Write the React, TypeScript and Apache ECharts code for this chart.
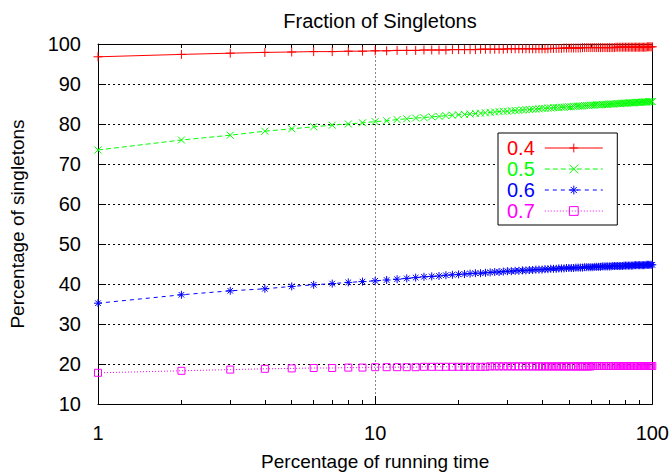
import React, { useEffect, useRef } from "react";
import * as echarts from "echarts";

const xValues: number[] = Array.from({ length: 100 }, (_, i) => i + 1);

const s04: number[] = [
  96.8, 97.4, 97.7, 97.9, 98.0, 98.1, 98.1, 98.2, 98.2, 98.3,
  98.3, 98.4, 98.4, 98.4, 98.5, 98.5, 98.5, 98.5, 98.6, 98.6,
  98.6, 98.6, 98.6, 98.7, 98.7, 98.7, 98.7, 98.7, 98.7, 98.8,
  98.8, 98.8, 98.8, 98.8, 98.8, 98.8, 98.8, 98.8, 98.8, 98.8,
  98.8, 98.8, 98.9, 98.9, 98.9, 98.9, 98.9, 99.0, 99.0, 99.0,
  99.0, 99.0, 99.0, 99.0, 99.0, 99.1, 99.1, 99.1, 99.1, 99.1,
  99.1, 99.1, 99.1, 99.1, 99.1, 99.1, 99.1, 99.1, 99.1, 99.1,
  99.1, 99.1, 99.1, 99.2, 99.2, 99.2, 99.2, 99.2, 99.2, 99.2,
  99.2, 99.2, 99.2, 99.2, 99.2, 99.2, 99.2, 99.2, 99.2, 99.2,
  99.2, 99.2, 99.2, 99.2, 99.2, 99.3, 99.3, 99.3, 99.3, 99.3,
];

const s05: number[] = [
  73.5, 76.0, 77.2, 78.2, 78.8, 79.3, 79.7, 80.0, 80.3, 80.6,
  80.8, 81.1, 81.3, 81.5, 81.6, 81.8, 81.9, 82.1, 82.2, 82.3,
  82.4, 82.5, 82.6, 82.7, 82.8, 82.9, 83.0, 83.1, 83.2, 83.2,
  83.3, 83.4, 83.4, 83.5, 83.6, 83.6, 83.7, 83.7, 83.8, 83.9,
  83.9, 84.0, 84.0, 84.1, 84.1, 84.1, 84.2, 84.2, 84.3, 84.3,
  84.3, 84.4, 84.4, 84.5, 84.5, 84.5, 84.6, 84.6, 84.6, 84.7,
  84.7, 84.7, 84.8, 84.8, 84.8, 84.9, 84.9, 84.9, 84.9, 85.0,
  85.0, 85.0, 85.0, 85.1, 85.1, 85.1, 85.1, 85.2, 85.2, 85.2,
  85.2, 85.3, 85.3, 85.3, 85.3, 85.3, 85.4, 85.4, 85.4, 85.4,
  85.4, 85.5, 85.5, 85.5, 85.5, 85.5, 85.6, 85.6, 85.6, 85.6,
];

const s06: number[] = [
  35.2, 37.3, 38.3, 38.8, 39.4, 39.8, 40.1, 40.4, 40.6, 40.8,
  41.0, 41.2, 41.4, 41.6, 41.8, 41.9, 42.0, 42.2, 42.3, 42.4,
  42.5, 42.6, 42.7, 42.7, 42.8, 42.9, 43.0, 43.0, 43.1, 43.2,
  43.2, 43.3, 43.3, 43.4, 43.4, 43.5, 43.5, 43.6, 43.6, 43.6,
  43.7, 43.7, 43.8, 43.8, 43.8, 43.9, 43.9, 43.9, 44.0, 44.0,
  44.0, 44.0, 44.1, 44.1, 44.1, 44.1, 44.2, 44.2, 44.2, 44.2,
  44.2, 44.3, 44.3, 44.3, 44.3, 44.4, 44.4, 44.4, 44.4, 44.4,
  44.4, 44.5, 44.5, 44.5, 44.5, 44.5, 44.5, 44.5, 44.6, 44.6,
  44.6, 44.6, 44.6, 44.6, 44.6, 44.7, 44.7, 44.7, 44.7, 44.7,
  44.7, 44.7, 44.7, 44.7, 44.8, 44.8, 44.8, 44.8, 44.8, 44.8,
];

const s07: number[] = [
  17.8, 18.3, 18.6, 18.8, 18.9, 19.0, 19.0, 19.1, 19.1, 19.2,
  19.2, 19.2, 19.2, 19.2, 19.3, 19.3, 19.3, 19.3, 19.3, 19.3,
  19.3, 19.3, 19.3, 19.3, 19.3, 19.4, 19.4, 19.4, 19.4, 19.4,
  19.4, 19.4, 19.4, 19.4, 19.4, 19.4, 19.4, 19.4, 19.4, 19.4,
  19.4, 19.4, 19.4, 19.4, 19.4, 19.4, 19.4, 19.4, 19.4, 19.4,
  19.4, 19.4, 19.4, 19.4, 19.4, 19.4, 19.4, 19.4, 19.4, 19.4,
  19.5, 19.5, 19.5, 19.5, 19.5, 19.5, 19.5, 19.5, 19.5, 19.5,
  19.5, 19.5, 19.5, 19.5, 19.5, 19.5, 19.5, 19.5, 19.5, 19.5,
  19.5, 19.5, 19.5, 19.5, 19.5, 19.5, 19.5, 19.5, 19.5, 19.5,
  19.5, 19.5, 19.5, 19.5, 19.5, 19.5, 19.5, 19.5, 19.5, 19.5,
];

const seriesNames: string[] = ["0.4", "0.5", "0.6", "0.7"];
const seriesColors: string[] = ["#ff0000", "#00ff00", "#0000ff", "#ff00ff"];
const seriesValues: number[][] = [s04, s05, s06, s07];
const seriesSymbols: string[] = [
  "path://M0,5L10,5M5,0L5,10",
  "path://M0,0L10,10M0,10L10,0",
  "path://M0,5L10,5M5,0L5,10M1.5,1.5L8.5,8.5M1.5,8.5L8.5,1.5",
  "path://M0,0L10,0L10,10L0,10Z",
];
const seriesSymbolSizes: number[] = [9, 7, 8, 7];
const seriesDash: any[] = ["solid", [5, 3], [4, 4], [1, 2]];

const titleText = "Fraction of Singletons";
const xName = "Percentage of running time";
const yName = "Percentage of singletons";

const FONT = "'Liberation Sans', Arial, Helvetica, sans-serif";

export default function App() {
  const ref = useRef<HTMLDivElement>(null);
  useEffect(() => {
    if (!ref.current) return;
    const chart = echarts.init(ref.current, null, { renderer: "svg" });
    const series = seriesNames.map((name, k) => ({
      name,
      type: "line",
      data: xValues.map((x, i) => [x, seriesValues[k][i]]),
      symbol: seriesSymbols[k],
      symbolSize: seriesSymbolSizes[k],
      showAllSymbol: true,
      lineStyle: { color: seriesColors[k], width: 1, type: seriesDash[k] },
      itemStyle: { color: "none", borderColor: seriesColors[k], borderWidth: 1 },
      emphasis: { disabled: true },
      z: 3 + k,
    }));
    const axisLineStyle = { color: "#000", width: 1 };
    chart.setOption({
      animation: false,
      backgroundColor: "#fff",
      textStyle: { fontFamily: FONT },
      title: {
        text: titleText,
        left: 375,
        textAlign: "center",
        top: 6,
        textStyle: { fontFamily: FONT, fontSize: 20, fontWeight: "normal", color: "#000" },
      },
      grid: { left: 97, right: 18, top: 44, bottom: 72 },
      legend: {
        orient: "vertical",
        left: 498,
        top: 133,
        align: "right",
        itemWidth: 58,
        itemHeight: 11,
        itemGap: 1,
        padding: [5, 14, 4, 9],
        backgroundColor: "#fff",
        borderColor: "#000",
        borderWidth: 1,
        borderRadius: 0,
        lineStyle: { width: 1 },
        itemStyle: { borderWidth: 1 },
        data: seriesNames.map((n, k) => ({
          name: n,
          textStyle: { color: seriesColors[k] },
        })),
        textStyle: { fontFamily: FONT, fontSize: 20, lineHeight: 20, padding: [0, 5, 0, 0] },
      },
      xAxis: [
        {
          type: "log",
          logBase: 10,
          min: 1,
          max: 100,
          position: "bottom",
          name: xName,
          nameLocation: "middle",
          nameGap: 48,
          nameTextStyle: { fontFamily: FONT, fontSize: 19, color: "#000" },
          axisLine: { lineStyle: axisLineStyle },
          axisTick: { inside: true, length: 8, lineStyle: axisLineStyle },
          minorTick: { show: true, splitNumber: 9, length: 4, lineStyle: axisLineStyle },
          axisLabel: {
            margin: 19,
            fontFamily: FONT,
            fontSize: 20,
            color: "#000",
            formatter: (v: number) => String(v),
          },
          splitLine: { show: true, lineStyle: { color: "#888", width: 1, type: [2, 2] } },
        },
        {
          type: "log",
          logBase: 10,
          min: 1,
          max: 100,
          position: "top",
          axisLine: { lineStyle: axisLineStyle },
          axisTick: { inside: true, length: 8, lineStyle: axisLineStyle },
          minorTick: { show: true, splitNumber: 9, length: 4, lineStyle: axisLineStyle },
          axisLabel: { show: false },
          splitLine: { show: false },
        },
      ],
      yAxis: [
        {
          type: "value",
          min: 10,
          max: 100,
          interval: 10,
          position: "left",
          name: yName,
          nameLocation: "middle",
          nameGap: 71,
          nameTextStyle: { fontFamily: FONT, fontSize: 19, color: "#000" },
          axisLine: { show: true, lineStyle: axisLineStyle },
          axisTick: { show: true, inside: true, length: 8, lineStyle: axisLineStyle },
          axisLabel: { margin: 17, fontFamily: FONT, fontSize: 20, color: "#000" },
          splitLine: { show: true, lineStyle: { color: "#000", width: 1, type: [2, 3] } },
        },
        {
          type: "value",
          min: 10,
          max: 100,
          interval: 10,
          position: "right",
          axisLine: { show: true, lineStyle: axisLineStyle },
          axisTick: { show: true, inside: true, length: 8, lineStyle: axisLineStyle },
          axisLabel: { show: false },
          splitLine: { show: false },
        },
      ],
      series,
    });
    return () => chart.dispose();
  }, []);
  return (
    <div
      ref={ref}
      style={{ position: "absolute", left: 0, top: 0, width: 672, height: 476 }}
    />
  );
}
